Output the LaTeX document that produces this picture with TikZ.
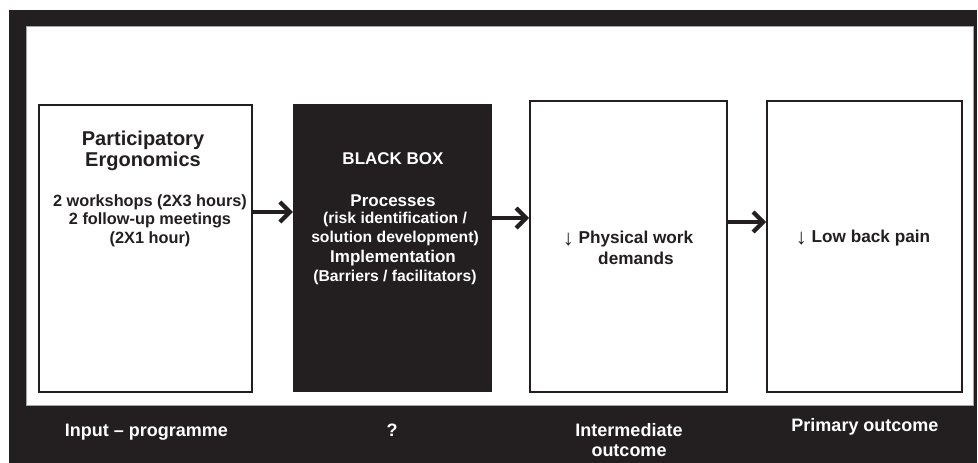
\documentclass[tikz,border=0pt]{standalone}
\usepackage{fontspec}
\setmainfont{Liberation Sans}
\usetikzlibrary{arrows.meta}
\definecolor{ink}{HTML}{231F20}
\newcommand{\dnarrow}{{\mdseries\fontsize{22}{22}\selectfont\raisebox{-2.5pt}{↓}}}
\begin{document}
\begin{tikzpicture}[x=1pt,y=-1pt,
  box/.style={draw=ink,line width=2pt,fill=white,rectangle,inner sep=0pt},
  blk/.style={fill=ink,draw=none,rectangle,inner sep=0pt},
  flow/.style={draw=ink,line width=4.2pt,-{Straight Barb[length=10pt,width=20pt]}},
  t/.style={anchor=base,inner sep=0pt,font=\bfseries\fontsize{#1}{#1}\selectfont,text=ink},
  w/.style={anchor=base,inner sep=0pt,font=\bfseries\fontsize{#1}{#1}\selectfont,text=white}]
\useasboundingbox (0,0) rectangle (978,463);
% frame
\fill[ink] (9,10) rectangle (977,463);
\fill[white] (26,26) rectangle (973,405);
\draw[gray!70,line width=0.8pt] (26,26) rectangle (973,405);
% boxes
\node[box,minimum width=213pt,minimum height=287pt] (b1) at (145.5,248.5) {};
\node[blk,minimum width=199pt,minimum height=288pt] (b2) at (392.5,248) {};
\node[box,minimum width=197pt,minimum height=291pt] (b3) at (628.5,246.5) {};
\node[box,minimum width=195pt,minimum height=291pt] (b4) at (864.5,246.5) {};
% arrows
\coordinate (ya) at (0,212);
\coordinate (yb) at (0,218);
\coordinate (yc) at (0,222);
\draw[flow] (b1.east |- ya) -- (b2.west |- ya);
\draw[flow] (b2.east |- yb) -- (b3.west |- yb);
\draw[flow] (b3.east |- yc) -- (b4.west |- yc);
% box 1 text
\node[t=20] (p1) at (143,145) {Participatory};
\node[t=20] (p2) at (143,166) {Ergonomics};
\node[t=16.3] (p3) at (150,206) {2 workshops (2X3 hours)};
\node[t=16.3] (p4) at (150,224.5) {2 follow-up meetings};
\node[t=16.3] (p5) at (150,243) {(2X1 hour)};
% box 2 text
\node[w=17] (k1) at (393,164) {BLACK BOX};
\node[w=17] (k2) at (393,206) {Processes};
\node[w=15.7] (k3) at (395,223.5) {(risk identification /};
\node[w=15.7] (k4) at (395,242) {solution development)};
\node[w=17] (k5) at (393,262) {Implementation};
\node[w=15.7] (k6) at (395,281) {(Barriers / facilitators)};
% box 3, 4 text
\node[t=17.2] (m1) at (628,243) {\dnarrow\ Physical work};
\node[t=17.2] (m2) at (636,264) {demands};
\node[t=17.2] (l1) at (863,242) {\dnarrow\ Low back pain};
% bottom labels
\node[w=18] (s1) at (146.5,436) {Input – programme};
\node[w=18] (s2) at (392,436) {?};
\node[w=18] (s3) at (629,436) {Intermediate};
\node[w=18] (s4) at (629,456) {outcome};
\node[w=18] (s5) at (865,431) {Primary outcome};
\end{tikzpicture}
\end{document}
